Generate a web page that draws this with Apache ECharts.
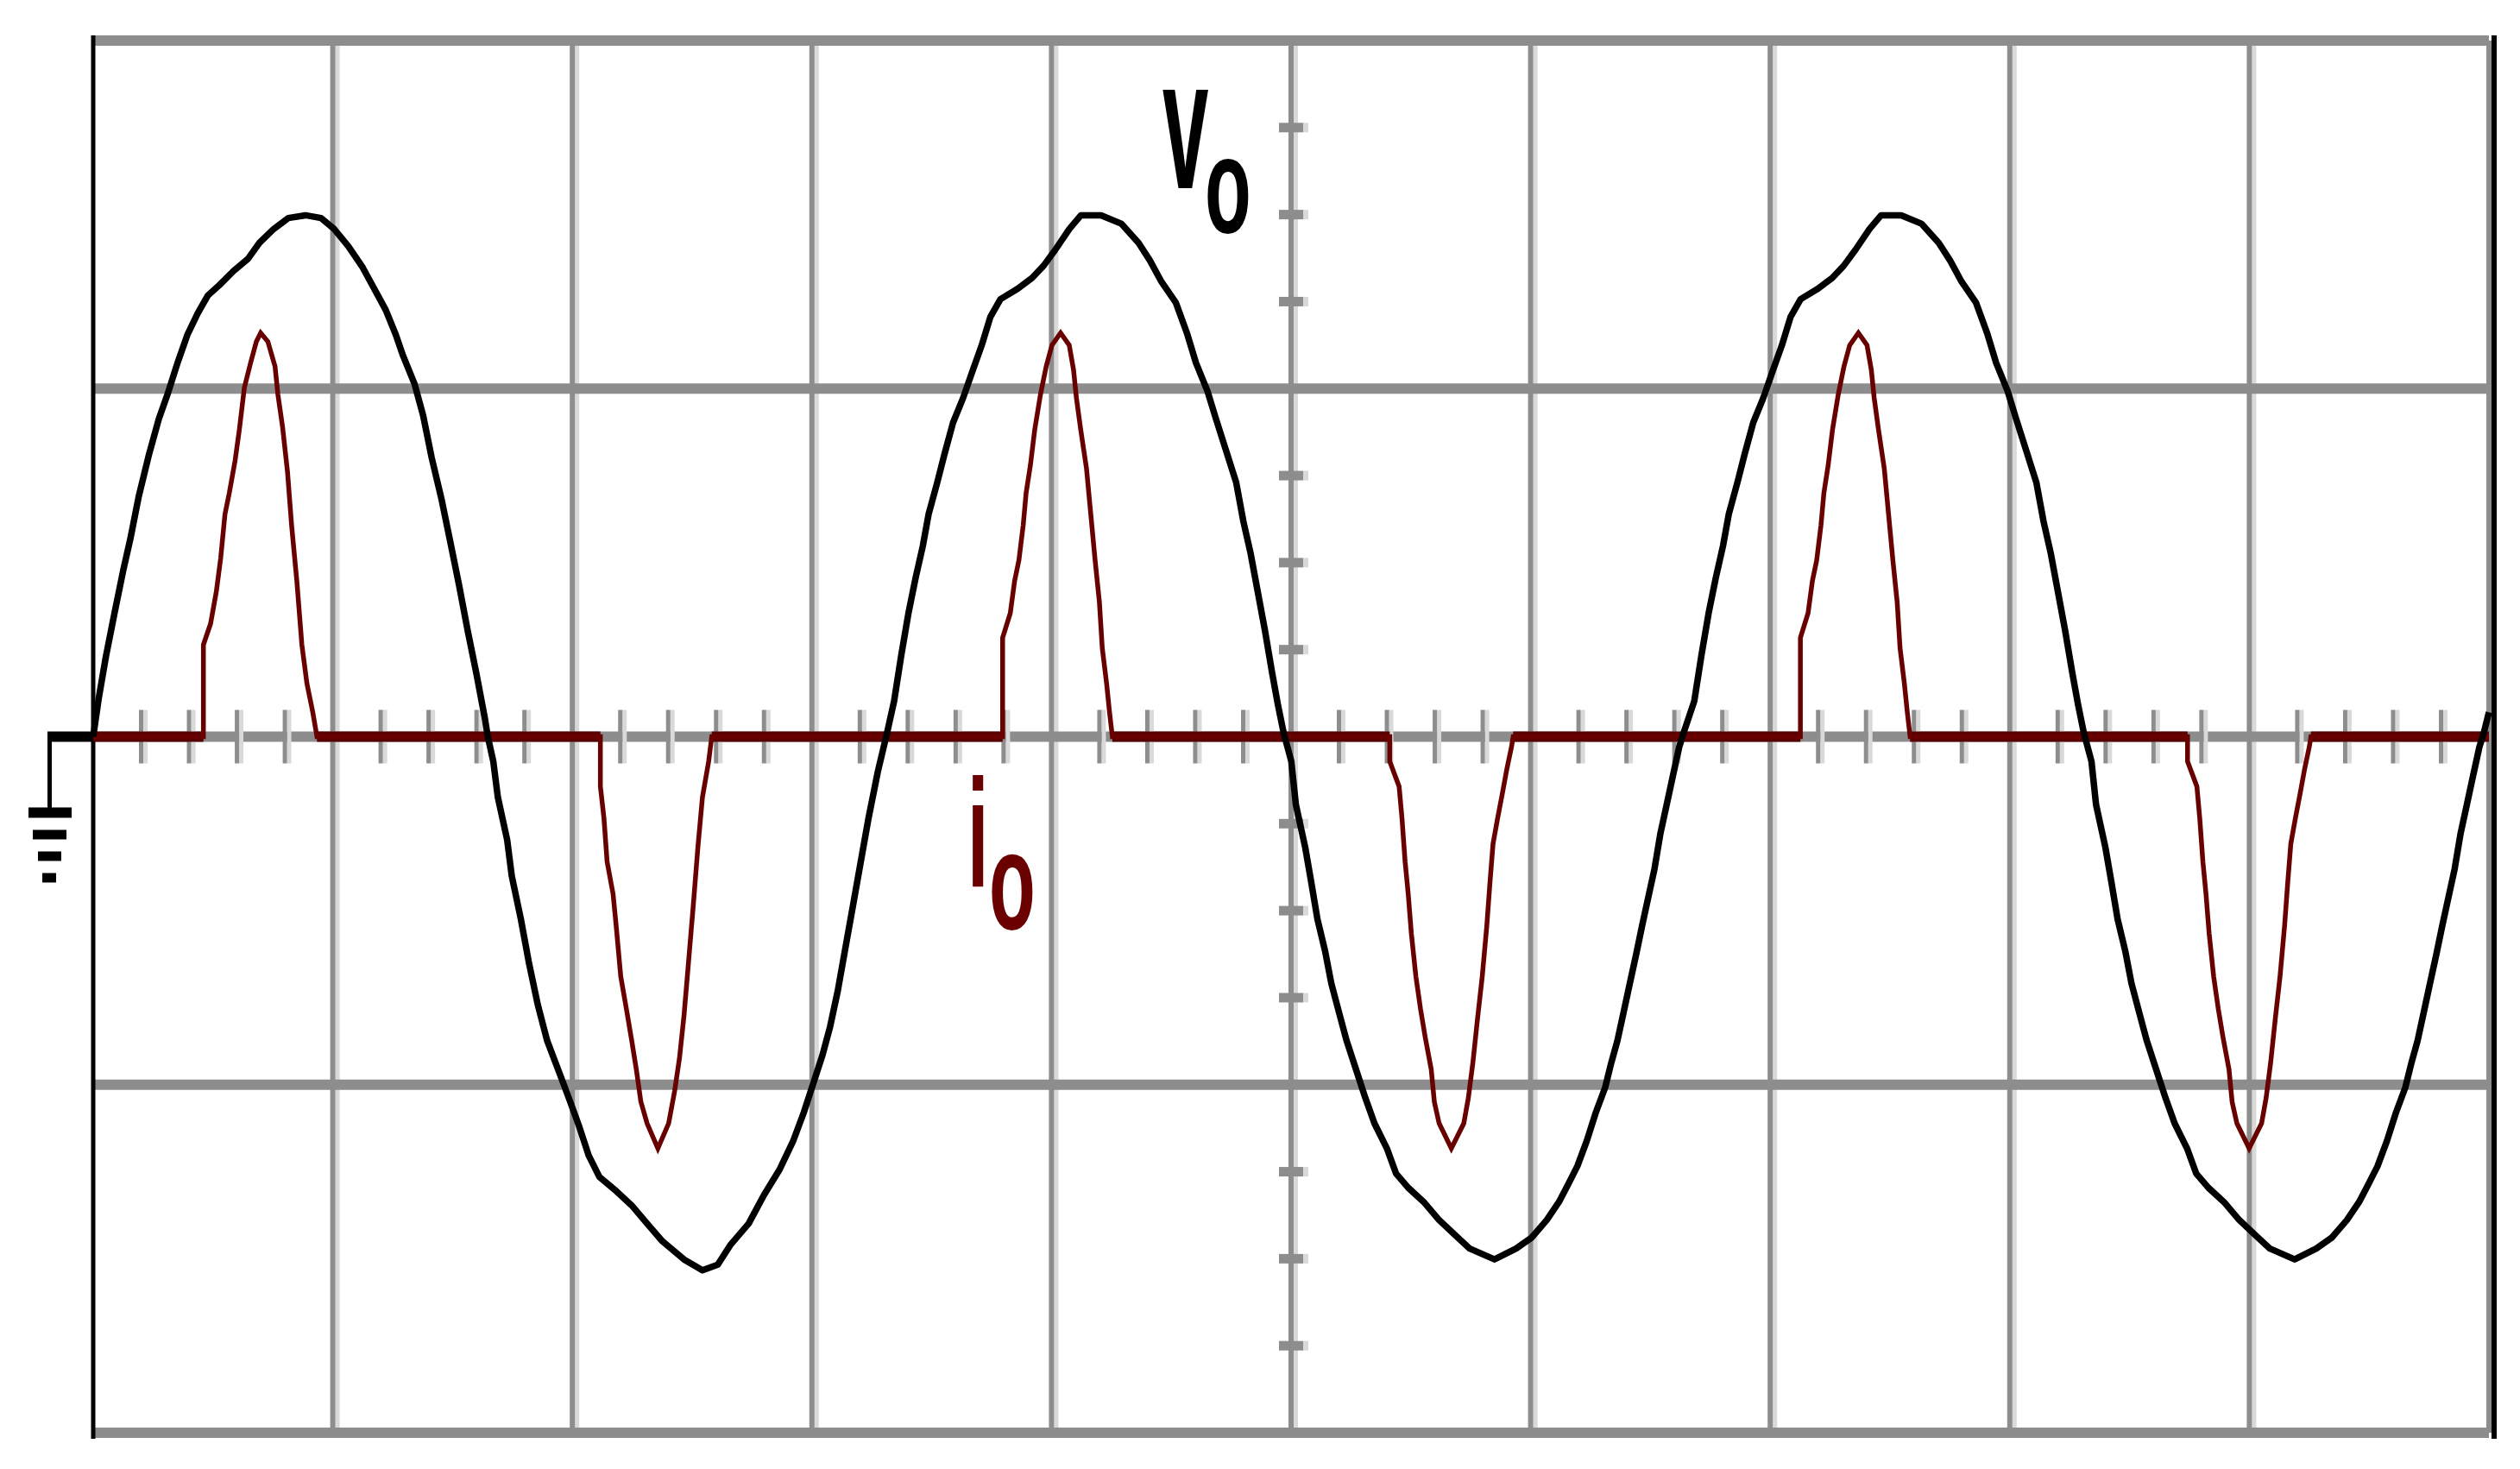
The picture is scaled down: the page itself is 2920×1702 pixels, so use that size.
<!DOCTYPE html>
<html><head><meta charset="utf-8">
<script src="https://cdn.jsdelivr.net/npm/echarts@6/dist/echarts.min.js"></script>
<style>html,body{margin:0;padding:0;background:#fff}#c{width:2920px;height:1702px}</style>
</head><body><div id="c"></div>
<script>
// ---- axis divisions (oscilloscope graticule, in divisions) ----
const xGridValues = [1, 2, 3, 4, 5, 6, 7, 8, 9, 10];
const yGridValues = [-2, -1, 0, 1, 2];
const xMinorTicks = [0.2,0.4,0.6,0.8,1.2,1.4,1.6,1.8,2.2,2.4,2.6,2.8,3.2,3.4,3.6,3.8,4.2,4.4,4.6,4.8,
  5.2,5.4,5.6,5.8,6.2,6.4,6.6,6.8,7.2,7.4,7.6,7.8,8.2,8.4,8.6,8.8,9.2,9.4,9.6,9.8];
const yMinorTicks = [-1.75,-1.5,-1.25,-0.75,-0.5,-0.25,0.25,0.5,0.75,1.25,1.5,1.75];

// ---- v_o trace (x in divisions, y in divisions) ----
const voData = [
 [0,0],[0.023,0.11],[0.053,0.23],[0.089,0.355],[0.125,0.477],[0.155,0.568],[0.19,0.69],[0.233,0.811],
 [0.274,0.913],[0.31,0.983],[0.352,1.074],[0.394,1.156],[0.436,1.216],[0.478,1.267],[0.526,1.297],
 [0.586,1.338],[0.646,1.373],[0.694,1.419],[0.754,1.459],[0.814,1.49],[0.886,1.498],[0.951,1.49],
 [1.005,1.459],[1.065,1.409],[1.125,1.348],[1.173,1.287],[1.221,1.226],[1.263,1.155],[1.293,1.095],
 [1.341,1.014],[1.377,0.923],[1.413,0.801],[1.455,0.679],[1.491,0.558],[1.527,0.436],[1.563,0.305],
 [1.599,0.183],[1.635,0.052],[1.647,0],
 [1.67,-0.071],[1.689,-0.174],[1.728,-0.297],[1.747,-0.4],[1.785,-0.524],[1.818,-0.647],[1.856,-0.771],
 [1.895,-0.874],[1.952,-0.977],[1.991,-1.049],[2.029,-1.121],[2.068,-1.203],[2.113,-1.265],[2.184,-1.306],
 [2.248,-1.347],[2.312,-1.399],[2.376,-1.45],[2.466,-1.502],[2.543,-1.533],[2.607,-1.517],[2.659,-1.461],
 [2.736,-1.399],[2.8,-1.317],[2.864,-1.245],[2.921,-1.163],[2.966,-1.08],[3.005,-0.998],[3.044,-0.915],
 [3.076,-0.833],[3.108,-0.73],[3.14,-0.606],[3.172,-0.483],[3.204,-0.359],[3.236,-0.235],[3.275,-0.101],
 [3.314,0.012],
 [3.343,0.102],[3.373,0.234],[3.403,0.355],[3.433,0.457],[3.463,0.548],[3.487,0.639],[3.523,0.73],
 [3.553,0.811],[3.589,0.902],[3.631,0.973],[3.667,1.044],[3.709,1.125],[3.745,1.206],[3.787,1.257],
 [3.859,1.287],[3.919,1.318],[3.967,1.353],[4.015,1.398],[4.075,1.459],[4.123,1.498],[4.207,1.498],
 [4.291,1.474],[4.363,1.419],[4.411,1.368],[4.459,1.307],[4.519,1.247],[4.567,1.156],[4.603,1.074],
 [4.651,0.993],[4.687,0.912],[4.729,0.821],[4.771,0.73],[4.801,0.618],[4.831,0.527],[4.861,0.416],
 [4.891,0.305],[4.921,0.183],[4.945,0.092],[4.969,0.011],
 [5.001,-0.071],[5.02,-0.195],[5.059,-0.318],[5.085,-0.421],[5.11,-0.524],[5.142,-0.616],[5.168,-0.709],
 [5.2,-0.792],[5.232,-0.874],[5.271,-0.956],[5.31,-1.038],[5.348,-1.111],[5.4,-1.183],[5.438,-1.255],
 [5.489,-1.296],[5.554,-1.337],[5.618,-1.389],[5.682,-1.43],[5.746,-1.471],[5.849,-1.502],[5.939,-1.471],
 [6.003,-1.44],[6.067,-1.389],[6.118,-1.337],[6.157,-1.286],[6.195,-1.234],[6.234,-1.162],[6.272,-1.08],
 [6.311,-1.008],[6.337,-0.936],[6.362,-0.874],[6.388,-0.792],[6.414,-0.709],[6.44,-0.627],[6.465,-0.544],
 [6.491,-0.462],[6.517,-0.38],[6.542,-0.277],[6.568,-0.195],[6.594,-0.112],[6.62,-0.03],[6.639,0.012],
 [6.683,0.102],[6.713,0.234],[6.743,0.355],[6.773,0.457],[6.803,0.548],[6.827,0.639],[6.863,0.73],
 [6.893,0.811],[6.929,0.902],[6.971,0.973],[7.007,1.044],[7.049,1.125],[7.085,1.206],[7.127,1.257],
 [7.199,1.287],[7.259,1.318],[7.307,1.353],[7.355,1.398],[7.415,1.459],[7.463,1.498],[7.547,1.498],
 [7.631,1.474],[7.703,1.419],[7.751,1.368],[7.799,1.307],[7.859,1.247],[7.907,1.156],[7.943,1.074],
 [7.991,0.993],[8.027,0.912],[8.069,0.821],[8.111,0.73],[8.141,0.618],[8.171,0.527],[8.201,0.416],
 [8.231,0.305],[8.261,0.183],[8.285,0.092],[8.309,0.011],
 [8.341,-0.071],[8.36,-0.195],[8.399,-0.318],[8.425,-0.421],[8.45,-0.524],[8.482,-0.616],[8.508,-0.709],
 [8.54,-0.792],[8.572,-0.874],[8.611,-0.956],[8.65,-1.038],[8.688,-1.111],[8.74,-1.183],[8.778,-1.255],
 [8.829,-1.296],[8.894,-1.337],[8.958,-1.389],[9.022,-1.43],[9.086,-1.471],[9.189,-1.502],[9.279,-1.471],
 [9.343,-1.44],[9.407,-1.389],[9.458,-1.337],[9.497,-1.286],[9.535,-1.234],[9.574,-1.162],[9.612,-1.08],
 [9.651,-1.008],[9.677,-0.936],[9.702,-0.874],[9.728,-0.792],[9.754,-0.709],[9.78,-0.627],[9.805,-0.544],
 [9.831,-0.462],[9.857,-0.38],[9.882,-0.277],[9.908,-0.195],[9.934,-0.112],[9.96,-0.03],[9.979,0.012],
 [10,0.07]
];

// ---- i_o trace ----
const ioData = [
 [0,0],[0.46,0],[0.46,0.264],[0.49,0.325],[0.514,0.417],[0.532,0.512],[0.55,0.639],[0.568,0.7],
 [0.592,0.792],[0.61,0.882],[0.631,1.003],[0.657,1.074],[0.681,1.135],[0.699,1.16],[0.729,1.135],
 [0.759,1.064],[0.771,0.983],[0.79,0.892],[0.811,0.761],[0.828,0.608],[0.85,0.447],[0.871,0.264],
 [0.892,0.153],[0.916,0.072],[0.934,0],
 [2.117,0],[2.117,-0.143],[2.132,-0.235],[2.145,-0.359],[2.17,-0.452],[2.183,-0.544],[2.202,-0.689],
 [2.228,-0.792],[2.248,-0.874],[2.267,-0.956],[2.286,-1.049],[2.312,-1.111],[2.357,-1.183],[2.402,-1.111],
 [2.427,-1.018],[2.447,-0.925],[2.466,-0.802],[2.485,-0.647],[2.505,-0.483],[2.524,-0.318],[2.543,-0.174],
 [2.569,-0.071],[2.582,0],
 [3.796,0],[3.796,0.284],[3.828,0.355],[3.846,0.447],[3.864,0.507],[3.882,0.608],[3.894,0.7],[3.912,0.78],
 [3.93,0.882],[3.954,0.983],[3.978,1.064],[4.002,1.125],[4.038,1.16],[4.074,1.125],[4.092,1.054],
 [4.104,0.973],[4.122,0.882],[4.146,0.771],[4.164,0.639],[4.182,0.507],[4.2,0.386],[4.212,0.254],
 [4.23,0.153],[4.242,0.072],[4.254,0],
 [5.412,0],[5.412,-0.071],[5.451,-0.143],[5.463,-0.235],[5.476,-0.359],[5.489,-0.452],[5.502,-0.565],
 [5.521,-0.689],[5.54,-0.781],[5.56,-0.864],[5.585,-0.956],[5.598,-1.049],[5.618,-1.111],[5.669,-1.183],
 [5.721,-1.111],[5.74,-1.038],[5.759,-0.936],[5.778,-0.812],[5.798,-0.689],[5.817,-0.544],[5.83,-0.421],
 [5.843,-0.308],[5.862,-0.235],[5.882,-0.163],[5.901,-0.092],[5.92,-0.03],[5.927,0],
 [7.126,0],[7.126,0.284],[7.158,0.355],[7.176,0.447],[7.194,0.507],[7.212,0.608],[7.224,0.7],[7.242,0.78],
 [7.26,0.882],[7.284,0.983],[7.308,1.064],[7.332,1.125],[7.368,1.16],[7.404,1.125],[7.422,1.054],
 [7.434,0.973],[7.452,0.882],[7.476,0.771],[7.494,0.639],[7.512,0.507],[7.53,0.386],[7.542,0.254],
 [7.56,0.153],[7.572,0.072],[7.584,0],
 [8.742,0],[8.742,-0.071],[8.781,-0.143],[8.793,-0.235],[8.806,-0.359],[8.819,-0.452],[8.832,-0.565],
 [8.851,-0.689],[8.87,-0.781],[8.89,-0.864],[8.915,-0.956],[8.928,-1.049],[8.948,-1.111],[8.999,-1.183],
 [9.051,-1.111],[9.07,-1.038],[9.089,-0.936],[9.108,-0.812],[9.128,-0.689],[9.147,-0.544],[9.16,-0.421],
 [9.173,-0.308],[9.192,-0.235],[9.212,-0.163],[9.231,-0.092],[9.25,-0.03],[9.257,0],
 [10,0]
];

// ---- trace labels ----
const labelTexts = ['v', 'o', 'i', 'o'];
const labelAnchors = [[4.463, 1.547], [4.640, 1.428], [3.649, -0.454], [3.739, -0.573]];

const GRAY = '#8d8d8d', LIGHT = '#d9d9d9';
const chart = echarts.init(document.getElementById('c'), null, {renderer: 'canvas', width: 2920, height: 1702});

const ioZero = ioData.map(p => p[1] === 0 ? p : [p[0], '-']);

function vGrid(params, api) {
  const x = api.value(0);
  const t = api.coord([x, 2]), b = api.coord([x, -2]);
  const h = b[1] - t[1];
  return {type: 'group', children: [
    {type: 'rect', shape: {x: t[0] + 3, y: t[1], width: 5, height: h}, style: {fill: LIGHT}},
    {type: 'rect', shape: {x: t[0] - 3, y: t[1], width: 6, height: h}, style: {fill: GRAY}}
  ]};
}
function hGrid(params, api) {
  const y = api.value(1);
  const l = api.coord([0, y]), r = api.coord([10, y]);
  return {type: 'rect', shape: {x: l[0], y: l[1] - 6, width: r[0] - l[0], height: 12}, style: {fill: GRAY}};
}
function xTick(params, api) {
  const p = api.coord([api.value(0), 0]);
  return {type: 'group', children: [
    {type: 'rect', shape: {x: p[0] + 2.5, y: p[1] - 31, width: 5, height: 62}, style: {fill: LIGHT}},
    {type: 'rect', shape: {x: p[0] - 2.5, y: p[1] - 31, width: 5, height: 62}, style: {fill: GRAY}}
  ]};
}
function yTick(params, api) {
  const p = api.coord([5, api.value(1)]);
  return {type: 'group', children: [
    {type: 'rect', shape: {x: p[0] + 14, y: p[1] - 5.5, width: 6, height: 11}, style: {fill: LIGHT}},
    {type: 'rect', shape: {x: p[0] - 14, y: p[1] - 5.5, width: 28, height: 11}, style: {fill: GRAY}}
  ]};
}
function border(params, api) {
  const x = api.value(0);
  const t = api.coord([x, 2]), b = api.coord([x, -2]);
  const left = x === 0;
  return {type: 'rect', shape: {x: left ? t[0] - 2.5 : t[0] + 3, y: t[1] - 6, width: left ? 5 : 6, height: b[1] - t[1] + 13}, style: {fill: '#000'}};
}

const option = {
  animation: false,
  backgroundColor: '#fff',
  grid: {left: 108, top: 47, width: 2776, height: 1613},
  xAxis: {type: 'value', min: 0, max: 10, interval: 1, axisLine: {show: false}, axisTick: {show: false}, axisLabel: {show: false}, splitLine: {show: false}},
  yAxis: {type: 'value', min: -2, max: 2, interval: 1, axisLine: {show: false}, axisTick: {show: false}, axisLabel: {show: false}, splitLine: {show: false}},
  series: [
    {type: 'custom', name: 'vgrid', clip: false, silent: true, z: 1, renderItem: vGrid, data: xGridValues.map(v => [v, 0]), encode: {x: 0, y: 1}},
    {type: 'custom', name: 'hgrid', clip: false, silent: true, z: 1, renderItem: hGrid, data: yGridValues.map(v => [0, v]), encode: {x: 0, y: 1}},
    {type: 'custom', name: 'xticks', clip: false, silent: true, z: 1, renderItem: xTick, data: xMinorTicks.map(v => [v, 0]), encode: {x: 0, y: 1}},
    {type: 'custom', name: 'yticks', clip: false, silent: true, z: 1, renderItem: yTick, data: yMinorTicks.map(v => [5, v]), encode: {x: 0, y: 1}},
    {type: 'custom', name: 'border', clip: false, silent: true, z: 1, renderItem: border, data: [[0, 0], [10, 0]], encode: {x: 0, y: 1}},
    {type: 'line', name: 'io0', data: ioZero, showSymbol: false, clip: false, z: 3, lineStyle: {color: '#580000', width: 12, cap: 'butt'}},
    {type: 'line', name: 'io', data: ioData, showSymbol: false, clip: false, z: 4, lineStyle: {color: '#680000', width: 5.5, join: 'miter'}},
    {type: 'line', name: 'vo', data: voData, showSymbol: false, clip: false, z: 5, lineStyle: {color: '#000', width: 7.5, join: 'round'}}
  ]
};
chart.setOption(option);

// ground symbol and labels, placed from data coordinates
const o = chart.convertToPixel({gridIndex: 0}, [0, 0]);
const g = [
  {type: 'rect', shape: {x: o[0] - 53, y: o[1] - 6, width: 53, height: 12}, style: {fill: '#000'}, z: 10},
  {type: 'rect', shape: {x: o[0] - 53, y: o[1], width: 5, height: 84}, style: {fill: '#000'}, z: 10},
  {type: 'rect', shape: {x: o[0] - 75, y: o[1] + 82, width: 50, height: 12}, style: {fill: '#000'}, z: 10},
  {type: 'rect', shape: {x: o[0] - 70, y: o[1] + 108, width: 39, height: 11}, style: {fill: '#000'}, z: 10},
  {type: 'rect', shape: {x: o[0] - 64, y: o[1] + 133, width: 27, height: 11}, style: {fill: '#000'}, z: 10},
  {type: 'rect', shape: {x: o[0] - 59, y: o[1] + 158, width: 16, height: 11}, style: {fill: '#000'}, z: 10}
];
const labelStyle = [
  {size: 96, sy: 2.25, fill: '#000'},
  {size: 88, sy: 1.8, fill: '#000'},
  {size: 88, sy: 2.02, fill: '#6b0000'},
  {size: 88, sy: 1.84, fill: '#6b0000'}
];
labelTexts.forEach((t, k) => {
  const p = chart.convertToPixel({gridIndex: 0}, labelAnchors[k]);
  const s = labelStyle[k];
  g.push({
    type: 'text', x: p[0], y: p[1] + 0.17 * s.size * s.sy, scaleY: s.sy, z: 10,
    style: {text: t, font: 'bold ' + s.size + 'px "Liberation Sans"', fill: s.fill, align: 'left', verticalAlign: 'bottom'}
  });
});
chart.setOption({graphic: g});
</script></body></html>
